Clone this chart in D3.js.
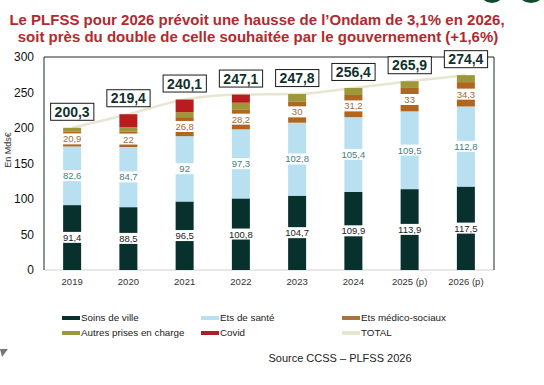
<!DOCTYPE html>
<html>
<head>
<meta charset="utf-8">
<script src="https://cdn.jsdelivr.net/npm/d3@7"></script>
<style>
  body { margin: 0; background: #fff; }
  svg { display: block; font-family: "Liberation Sans", Arial, sans-serif; }
</style>
</head>
<body>
<script>
// categories and series
const years = ["2019", "2020", "2021", "2022", "2023", "2024", "2025 (p)", "2026 (p)"];
const soinsVille = [91.4, 88.5, 96.5, 100.8, 104.7, 109.9, 113.9, 117.5];
const etsSante = [82.6, 84.7, 92, 97.3, 102.8, 105.4, 109.5, 112.8];
const etsMedico = [20.9, 22, 26.8, 28.2, 30, 31.2, 33, 34.3];
const autres = [5.4, 5.9, 7, 9.3, 10.3, 9.9, 9.5, 9.8];
const covid = [0, 18.3, 17.8, 11.5, 0, 0, 0, 0];
const totals = [200.3, 219.4, 240.1, 247.1, 247.8, 256.4, 265.9, 274.4];
const yTicks = [0, 50, 100, 150, 200, 250, 300];

const w = 544, h = 385;
const pLeft = 44, pRight = 494, pTop = 57, pBottom = 270;

const fmt = (v) => String(v).replace(".", ",");

const svg = d3.select("body").append("svg").attr("width", w).attr("height", h);

// small decorations seen in the slide
svg.append("circle").attr("cx", 492).attr("cy", -10).attr("r", 13).attr("fill", "#0e4a2c");
svg.append("circle").attr("cx", 531).attr("cy", -12).attr("r", 15).attr("fill", "#0e4a2c");
svg.append("path").attr("d", "M0,349 L8,349 L2,357 Z").attr("fill", "#777");

// title
const title = svg.append("text")
	.attr("text-anchor", "middle")
	.attr("fill", "#b22a2e")
	.style("font-weight", "bold")
	.style("font-size", "15px");
title.append("tspan").attr("x", 257).attr("y", 25).text("Le PLFSS pour 2026 prévoit une hausse de l’Ondam de 3,1% en 2026,");
title.append("tspan").attr("x", 258).attr("y", 42).text("soit près du double de celle souhaitée par le gouvernement (+1,6%)");

// scales
const x = d3.scaleBand().domain(years).range([pLeft, pRight]).paddingInner(0.68).paddingOuter(0.34);
const y = d3.scaleLinear().domain([0, 300]).range([pBottom, pTop]);

// frame
svg.append("line").attr("x1", pLeft).attr("x2", pRight).attr("y1", pBottom).attr("y2", pBottom)
	.attr("stroke", "#d0d0d0");
svg.append("path")
	.attr("d", `M${pLeft},${pBottom} L${pLeft},${pTop} L${pRight},${pTop} L${pRight},${pBottom}`)
	.attr("fill", "none").attr("stroke", "#1e2a28").attr("stroke-width", 1);

// y axis
const yAxis = svg.append("g")
	.attr("transform", `translate(${pLeft},0)`)
	.call(d3.axisLeft(y).tickValues(yTicks).tickSize(0).tickPadding(10));
yAxis.select(".domain").remove();
yAxis.selectAll("text").style("font-size", "12px").attr("fill", "#111").style("font-family", "Liberation Sans, Arial");

svg.append("text")
	.attr("transform", "translate(11,150) rotate(-90)")
	.attr("text-anchor", "middle")
	.style("font-size", "9px")
	.attr("fill", "#333")
	.text("En Mds€");

// x axis
const xAxis = svg.append("g")
	.attr("transform", `translate(0,${pBottom})`)
	.call(d3.axisBottom(x).tickSize(0).tickPadding(8));
xAxis.select(".domain").remove();
xAxis.selectAll("text").style("font-size", "9.5px").attr("fill", "#333").style("font-family", "Liberation Sans, Arial");

// stacked series
const series = [
	{ name: "Soins de ville", values: soinsVille, color: "#08312d", label: "#222" },
	{ name: "Ets de santé", values: etsSante, color: "#b8e0f1", label: "#3f7f80" },
	{ name: "Ets médico-sociaux", values: etsMedico, color: "#b0661e", label: "#9a6a3c" },
	{ name: "Autres prises en charge", values: autres, color: "#9c983a" },
	{ name: "Covid", values: covid, color: "#b91c1f" }
];

const rows = years.map((yr, i) => {
	const r = { year: yr };
	series.forEach((s) => (r[s.name] = s.values[i]));
	return r;
});
const stacked = d3.stack().keys(series.map((s) => s.name))(rows);

// total line (behind boxes)
const line = d3.line()
	.x((d, i) => x(years[i]) + x.bandwidth() / 2)
	.y((d) => y(d))
	.curve(d3.curveMonotoneX);
svg.append("path")
	.datum(totals)
	.attr("d", line)
	.attr("fill", "none")
	.attr("stroke", "#e8e6cf")
	.attr("stroke-width", 2.5);

stacked.forEach((layer, k) => {
	svg.append("g")
		.selectAll("rect")
		.data(layer)
		.enter()
		.append("rect")
		.attr("x", (d) => x(d.data.year))
		.attr("width", x.bandwidth())
		.attr("y", (d) => y(d[1]))
		.attr("height", (d) => y(d[0]) - y(d[1]))
		.attr("fill", series[k].color);
});

// segment labels on the first three layers
stacked.slice(0, 3).forEach((layer, k) => {
	const g = svg.append("g")
		.selectAll("g")
		.data(layer)
		.enter()
		.append("g")
		.attr("transform", (d) => `translate(${x(d.data.year) + x.bandwidth() / 2},${y((d[0] + d[1]) / 2)})`);
	g.append("text")
		.attr("text-anchor", "middle")
		.attr("dy", "0.35em")
		.style("font-size", "9.5px")
		.attr("fill", series[k].label)
		.text((d, i) => fmt(series[k].values[i]))
		.each(function () {
			const b = this.getBBox();
			d3.select(this.parentNode).insert("rect", "text")
				.attr("x", Math.min(b.x - 2, -x.bandwidth() / 2 - 1))
				.attr("width", Math.max(b.width + 4, x.bandwidth() + 2))
				.attr("y", b.y)
				.attr("height", b.height)
				.attr("fill", "#fff");
		});
});

// total boxes
const tb = svg.append("g")
	.selectAll("g")
	.data(totals)
	.enter()
	.append("g")
	.attr("transform", (d, i) => `translate(${x(years[i]) + x.bandwidth() / 2},${y(d) - 16})`);
tb.append("text")
	.attr("text-anchor", "middle")
	.attr("dy", "0.36em")
	.style("font-size", "14px")
	.style("font-weight", "bold")
	.attr("fill", "#12302c")
	.text((d) => fmt(d))
	.each(function () {
		const b = this.getBBox();
		d3.select(this.parentNode).insert("rect", "text")
			.attr("x", b.x - 4)
			.attr("y", -8.5)
			.attr("width", b.width + 8)
			.attr("height", 17)
			.attr("fill", "#fff")
			.attr("stroke", "#1a1a1a")
			.attr("stroke-width", 1);
	});

// legend
const legendItems = [
	{ name: "Soins de ville", color: "#08312d", x: 62, y: 318 },
	{ name: "Ets de santé", color: "#b8e0f1", x: 201, y: 318 },
	{ name: "Ets médico-sociaux", color: "#a8733c", x: 342, y: 318 },
	{ name: "Autres prises en charge", color: "#9c983a", x: 62, y: 333 },
	{ name: "Covid", color: "#a8202a", x: 201, y: 333 },
	{ name: "TOTAL", color: "#e8e6cf", x: 342, y: 333 }
];
const lg = svg.append("g")
	.selectAll("g")
	.data(legendItems)
	.enter()
	.append("g")
	.attr("transform", (d) => `translate(${d.x},${d.y})`);
lg.append("rect").attr("x", 0).attr("y", -2).attr("width", 18).attr("height", 4).attr("fill", (d) => d.color);
lg.append("text")
	.attr("x", 19)
	.attr("dy", "0.35em")
	.style("font-size", "9.8px")
	.attr("fill", "#222")
	.text((d) => d.name);

svg.append("text")
	.attr("x", 340)
	.attr("y", 362)
	.attr("text-anchor", "middle")
	.style("font-size", "11px")
	.attr("fill", "#222")
	.text("Source CCSS – PLFSS 2026");
</script>
</body>
</html>
